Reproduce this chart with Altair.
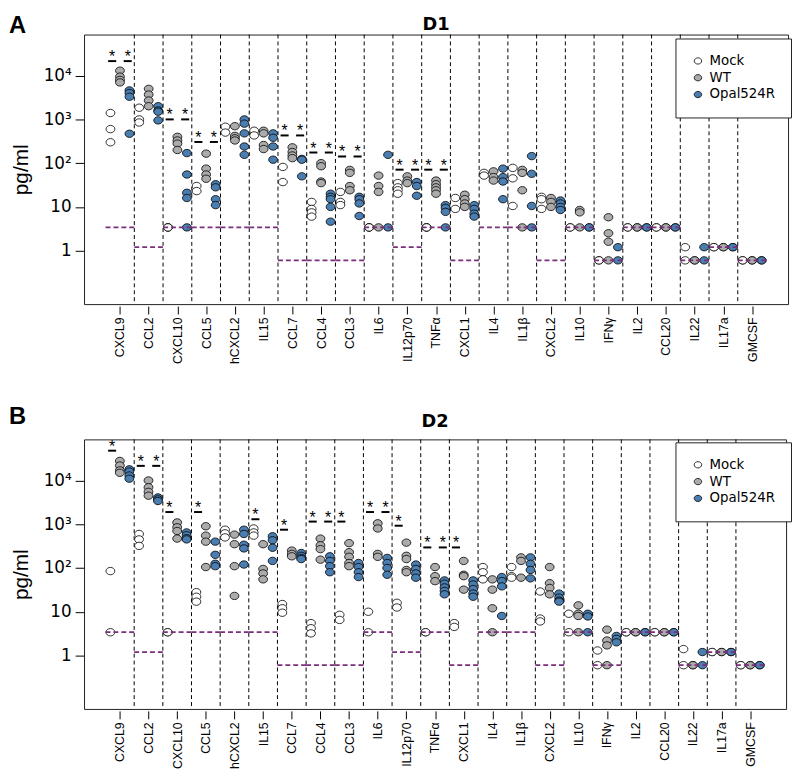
import json
import altair as alt
import pandas as pd

CATS = ["CXCL9", "CCL2", "CXCL10", "CCL5", "hCXCL2", "IL15", "CCL7", "CCL4", "CCL3",
        "IL6", "IL12p70", "TNFα", "CXCL1", "IL4", "IL1β", "CXCL2", "IL10", "IFNγ",
        "IL2", "CCL20", "IL22", "IL17a", "GMCSF"]
GROUPS = ["Mock", "WT", "Opal524R"]
LOD = [3.4, 1.2, 3.4, 3.4, 3.4, 3.4, 0.6, 0.6, 0.6, 3.4, 1.2, 3.4, 0.6, 3.4, 3.4, 0.6,
       3.4, 0.6, 3.4, 3.4, 0.6, 1.2, 0.6]

# ---------------- D1 ----------------
D1_MOCK = {
    "CXCL9": [1400, 600, 300], "CCL2": [1850, 1000, 850], "CXCL10": [3.4, 3.4, 3.4],
    "CCL5": [30, 23], "hCXCL2": [680, 500], "IL15": [550, 430], "CCL7": [82, 37],
    "CCL4": [13, 9, 7.5, 6], "CCL3": [22, 13, 11], "IL6": [3.4, 3.4, 3.4],
    "IL12p70": [35, 28, 24, 20], "TNFα": [3.4, 3.4, 3.4], "CXCL1": [16, 9],
    "IL4": [60, 52], "IL1β": [78, 45, 10.5], "CXCL2": [17, 15, 9], "IL10": [3.4, 3.4],
    "IFNγ": [0.6, 0.6], "IL2": [3.4, 3.4], "CCL20": [3.4, 3.4], "IL22": [1.2, 0.6],
    "IL17a": [1.2, 1.2], "GMCSF": [0.6, 0.6],
}
D1_WT = {
    "CXCL9": [13000, 9500, 8000, 7000], "CCL2": [5000, 3700, 2700, 2000],
    "CXCL10": [400, 330, 280, 200], "CCL5": [165, 75, 55, 44],
    "hCXCL2": [700, 420, 370, 330], "IL15": [550, 480, 260, 210],
    "CCL7": [230, 180, 150, 130], "CCL4": [100, 85, 38, 35], "CCL3": [70, 60, 30, 24],
    "IL6": [52, 30, 22, 3.4], "IL12p70": [50, 40, 35], "TNFα": [40, 33, 28, 24, 20],
    "CXCL1": [19, 15, 12, 10], "IL4": [65, 48, 40], "IL1β": [70, 60, 24, 3.4],
    "CXCL2": [16, 13, 10], "IL10": [8.5, 7.5, 3.4], "IFNγ": [5.8, 2.5, 1.6, 0.6],
    "IL2": [3.4, 3.4], "CCL20": [3.4, 3.4], "IL22": [0.6, 0.6], "IL17a": [1.2, 1.2],
    "GMCSF": [0.6, 0.6],
}
D1_OPAL = {
    "CXCL9": [4600, 4000, 3300, 470], "CCL2": [2000, 1600, 1500, 950],
    "CXCL10": [170, 55, 21, 16, 3.4], "CCL5": [33, 28, 15, 11],
    "hCXCL2": [1000, 800, 480, 240, 155], "IL15": [480, 380, 240, 120],
    "CCL7": [125, 120, 50], "CCL4": [20, 17, 15, 10, 4.6], "CCL3": [17, 15, 12, 6.2],
    "IL6": [155, 3.4], "IL12p70": [37, 30, 18], "TNFα": [11, 9.5, 7.7, 3.4],
    "CXCL1": [11, 9, 7, 6], "IL4": [75, 48, 38, 15], "IL1β": [145, 57, 10.5, 3.4],
    "CXCL2": [14, 12, 10, 8.5], "IL10": [3.4, 3.4], "IFNγ": [1.2, 0.6],
    "IL2": [3.4, 3.4], "CCL20": [3.4, 3.4], "IL22": [1.2, 0.6], "IL17a": [1.2, 1.2],
    "GMCSF": [0.6, 0.6],
}
D1_SIG_CAT = ["CXCL9", "CXCL9", "CXCL10", "CXCL10", "CCL5", "CCL5", "CCL7", "CCL7",
              "CCL4", "CCL4", "CCL3", "CCL3", "IL12p70", "IL12p70", "TNFα", "TNFα"]
D1_SIG_SIDE = [-1, 1, -1, 1, -1, 1, -1, 1, -1, 1, -1, 1, -1, 1, -1, 1]
D1_SIG_Y = [21500, 21500, 1000, 1000, 305, 305, 430, 430, 175, 175, 142, 142,
            71, 71, 71, 71]

# ---------------- D2 ----------------
D2_MOCK = {
    "CXCL9": [85, 3.4], "CCL2": [600, 450, 320], "CXCL10": [3.4, 3.4],
    "CCL5": [28, 22, 17], "hCXCL2": [750, 620, 500], "IL15": [800, 650, 550],
    "CCL7": [15, 12, 9.5], "CCL4": [5.5, 4.2, 3.2], "CCL3": [8.5, 6.5],
    "IL6": [10, 3.4], "IL12p70": [16, 12.5], "TNFα": [3.4, 3.4], "CXCL1": [5.5, 4.5],
    "IL4": [105, 80, 55], "IL1β": [105, 65, 60], "CXCL2": [29, 7, 6], "IL10": [9, 3.4],
    "IFNγ": [1.3, 0.6], "IL2": [3.4, 3.4], "CCL20": [3.4, 3.4], "IL22": [1.4, 0.6],
    "IL17a": [1.2, 1.2], "GMCSF": [0.6, 0.6],
}
D2_WT = {
    "CXCL9": [28000, 22000, 17000, 15000], "CCL2": [10000, 7000, 5500, 4500],
    "CXCL10": [1100, 850, 700, 470], "CCL5": [900, 550, 400, 105],
    "hCXCL2": [580, 350, 110, 23], "IL15": [350, 95, 75, 55], "CCL7": [250, 210, 185],
    "CCL4": [470, 330, 270, 155], "CCL3": [370, 230, 180, 130, 110],
    "IL6": [1050, 800, 210, 180], "IL12p70": [380, 190, 160, 90, 80],
    "TNFα": [105, 65, 50], "CXCL1": [145, 70, 65, 32], "IL4": [55, 32, 12, 3.4],
    "IL1β": [175, 145, 60], "CXCL2": [105, 45, 35, 25], "IL10": [14, 9, 8, 3.4],
    "IFNγ": [3.9, 2.2, 1.7, 0.6], "IL2": [3.4, 3.4], "CCL20": [3.4, 3.4],
    "IL22": [0.6, 0.6], "IL17a": [1.2, 1.2], "GMCSF": [0.6, 0.6],
}
D2_OPAL = {
    "CXCL9": [18000, 16000, 13000, 11000], "CCL2": [4100, 3700, 3400],
    "CXCL10": [650, 560, 480, 450], "CCL5": [400, 200, 125, 110],
    "hCXCL2": [750, 600, 340, 280, 120], "IL15": [530, 430, 290, 145],
    "CCL7": [220, 190, 170, 160], "CCL4": [185, 145, 110, 80], "CCL3": [130, 105, 80, 62],
    "IL6": [170, 130, 100, 70], "IL12p70": [120, 95, 75, 60],
    "TNFα": [52, 44, 36, 30, 25], "CXCL1": [52, 42, 33, 26, 22],
    "IL4": [62, 50, 38, 8], "IL1β": [175, 125, 90, 58], "CXCL2": [26, 21, 18, 17],
    "IL10": [9, 7.8, 3.4], "IFNγ": [2.8, 2.4, 2.0], "IL2": [3.4, 3.4],
    "CCL20": [3.4, 3.4], "IL22": [1.2, 0.6], "IL17a": [1.2, 1.2], "GMCSF": [0.6, 0.6],
}
D2_SIG_CAT = ["CXCL9", "CCL2", "CCL2", "CXCL10", "CCL5", "IL15", "CCL7", "CCL4", "CCL4",
              "CCL3", "IL6", "IL6", "IL12p70", "TNFα", "TNFα", "CXCL1"]
D2_SIG_SIDE = [-1, -1, 1, -1, -1, -1, -1, -1, 1, -1, -1, 1, -1, -1, 1, -1]
D2_SIG_Y = [48000, 21600, 21600, 1900, 1900, 1300, 750, 1150, 1150, 1150, 1900, 1900,
            925, 295, 295, 295]

ELLIPSE = "M-1.2,0A1.2,1,0,1,0,1.2,0A1.2,1,0,1,0,-1.2,0Z"
COLORS = ["#FFFFFF", "#ABABAB", "#4A7DB0"]
PURPLE = "#7A2E7C"
OFFS = {"Mock": -0.33, "WT": 0.0, "Opal524R": 0.33}


def points_frame(mock, wt, opal):
    rows = []
    for g, d in zip(GROUPS, (mock, wt, opal)):
        for c, vals in d.items():
            for v in vals:
                rows.append({"pos": CATS.index(c) + OFFS[g], "value": v, "group": g})
    return pd.DataFrame(rows)


def sig_frame(cats, sides, ys):
    rows = []
    for c, s, v in zip(cats, sides, ys):
        xc = CATS.index(c) + s * 0.27
        rows.append({"xc": xc, "xa": xc - 0.14, "xb": xc + 0.14, "v": v})
    return pd.DataFrame(rows)


lod_df = pd.DataFrame({"l1": [i - 0.5 for i in range(len(CATS))],
                       "l2": [i + 0.5 for i in range(len(CATS))],
                       "lod": LOD})
sep_df = pd.DataFrame({"sep": [i + 0.5 for i in range(len(CATS) - 1)]})

x_label_expr = "%s[datum.value]" % json.dumps(CATS, ensure_ascii=False)
y_label_expr = ("datum.value >= 10000 ? '10⁴' : datum.value >= 1000 ? '10³' : "
                "datum.value >= 100 ? '10²' : datum.value >= 10 ? '10' : '1'")

H = 273


def panel(name, letter, mock, wt, opal, sig, width, xmax, letter_x, letter_y,
          title_y, legend_y):
    xs = alt.Scale(domain=[-1.25, xmax], nice=False, zero=False)
    ys = alt.Scale(type="log", domain=[0.06, 87000], nice=False)
    xax = alt.Axis(values=list(range(len(CATS))), labelExpr=x_label_expr, labelAngle=270,
                   labelFont="Liberation Sans", labelFontSize=12.5, labelColor="black",
                   tickSize=8, tickColor="black", offset=2, labelPadding=3,
                   domain=False, grid=False, title=None)
    yax = alt.Axis(values=[1, 10, 100, 1000, 10000], labelExpr=y_label_expr,
                   labelFont="DejaVu Sans", labelFontSize=17, labelColor="black",
                   tickSize=9, tickColor="black", labelPadding=4, domain=False,
                   grid=False, title="pg/ml", titleFont="Liberation Sans",
                   titleFontSize=21, titleFontWeight="normal", titleColor="black",
                   titleX=-53, titleY=H / 2)

    def X(f):
        return alt.X(f, type="quantitative", scale=xs, axis=xax)

    def Y(f):
        return alt.Y(f, type="quantitative", scale=ys, axis=yax)

    seps = alt.Chart(sep_df).mark_rule(color="black", strokeWidth=1,
                                       strokeDash=[4, 3]).encode(x=X("sep"))
    pts = alt.Chart(points_frame(mock, wt, opal)).mark_point(
        shape=ELLIPSE, filled=True, size=56, stroke="black", strokeWidth=0.8, opacity=1
    ).encode(
        x=X("pos"), y=Y("value"),
        fill=alt.Fill("group:N", scale=alt.Scale(domain=GROUPS, range=COLORS),
                      legend=alt.Legend(title=None, orient="none", legendX=599,
                                        legendY=legend_y, fillColor="white",
                                        strokeColor="#222", padding=16,
                                        labelFont="DejaVu Sans", labelFontSize=13.5,
                                        labelColor="black", symbolType=ELLIPSE,
                                        symbolSize=40, symbolStrokeColor="black",
                                        symbolStrokeWidth=0.8, rowPadding=2,
                                        labelOffset=5, cornerRadius=0)),
    )
    lods = alt.Chart(lod_df).mark_rule(color=PURPLE, strokeWidth=1.8,
                                       strokeDash=[5, 3]).encode(
        x=X("l1"), x2=alt.X2("l2"), y=Y("lod"))
    sdf = sig_frame(*sig)
    bars = alt.Chart(sdf).mark_rule(color="black", strokeWidth=2).encode(
        x=X("xa"), x2=alt.X2("xb"), y=Y("v"))
    stars = alt.Chart(sdf).mark_text(text="*", font="Liberation Sans", fontSize=16,
                                     baseline="alphabetic", dy=1, color="black").encode(
        x=X("xc"), y=Y("v"))
    lett = alt.Chart(pd.DataFrame({"t": [letter]})).mark_text(
        font="Liberation Sans", fontSize=24, fontWeight="bold", align="left",
        baseline="top", color="black").encode(
        text="t:N", x=alt.value(letter_x), y=alt.value(letter_y))
    ttl = alt.Chart(pd.DataFrame({"t": [name]})).mark_text(
        font="DejaVu Sans", fontSize=18, fontWeight="bold", align="center",
        baseline="alphabetic", color="black").encode(
        text="t:N", x=alt.value(width / 2), y=alt.value(title_y))
    return alt.layer(seps, pts, lods, bars, stars, lett, ttl).properties(
        width=width, height=H)


pA = panel("D1", "A", D1_MOCK, D1_WT, D1_OPAL, (D1_SIG_CAT, D1_SIG_SIDE, D1_SIG_Y),
           713, 23.25, -76, -21, -5, 4)
pB = panel("D2", "B", D2_MOCK, D2_WT, D2_OPAL, (D2_SIG_CAT, D2_SIG_SIDE, D2_SIG_Y),
           711, 23.25, -76, -35, -13, 3)

chart = alt.vconcat(pA, pB, spacing=40).resolve_scale(
    x="independent", y="independent", fill="independent"
).resolve_legend(fill="independent").properties(
    padding={"left": 0, "top": 0, "right": 0, "bottom": 0}
).configure_view(stroke="#222", strokeWidth=1)

chart.save("out.html", embed_options={"renderer": "svg", "actions": False})
